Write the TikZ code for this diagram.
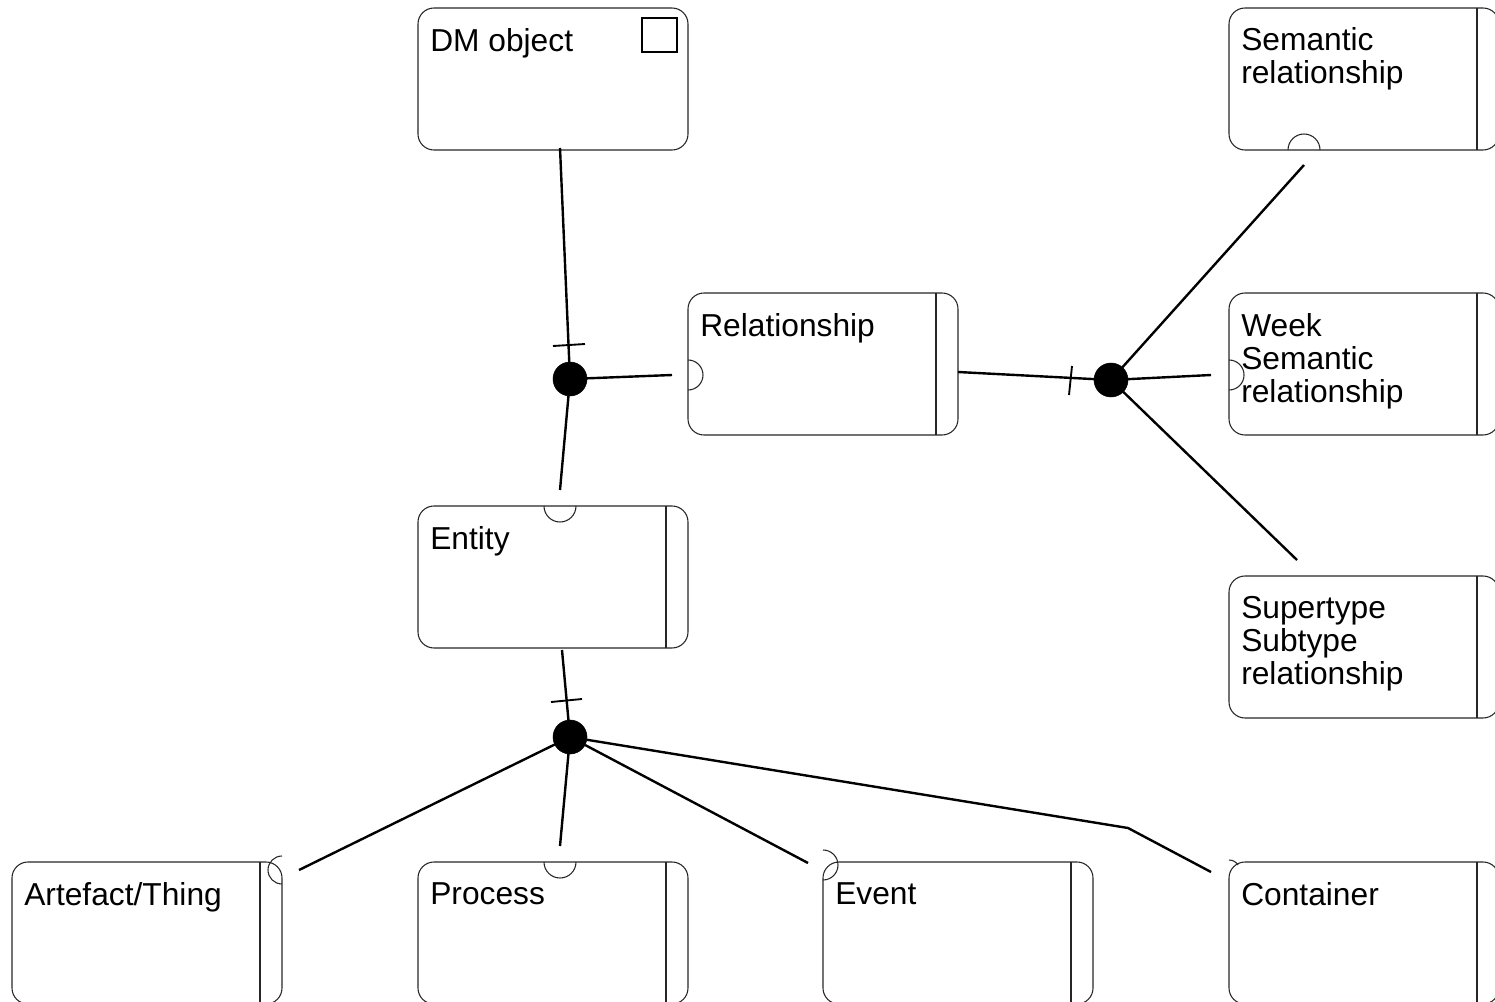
\documentclass[tikz,border=0pt]{standalone}
\usepackage{fontspec}
\setmainfont{Liberation Sans}
\begin{document}
\begin{tikzpicture}[x=0.75pt,y=-0.75pt,
  box/.style={draw=black!85, line width=0.8pt, rounded corners=12pt, minimum width=202.5pt, minimum height=106.5pt, inner sep=0pt, outer sep=0pt},
  lbl/.style={anchor=north west, inner sep=0pt, align=left, font=\fontsize{23.8}{24.75}\selectfont},
  conn/.style={line width=1.8pt, black},
  tick/.style={line width=1.4pt, black},
  junc/.style={circle, fill=black, draw=black, minimum size=25.5pt, inner sep=0pt, outer sep=0pt},
  notch/.style={draw=black!85, line width=0.8pt},
  divider/.style={draw=black!85, line width=0.8pt}]
\useasboundingbox (0,0) rectangle (1495,1002);

% boxes
\node[box] (dm)   at (553,79)  {};
\node[box] (sem)  at (1364,79) {};
\node[box] (rel)  at (823,364) {};
\node[box] (week) at (1364,364) {};
\node[box] (ent)  at (553,577) {};
\node[box] (sup)  at (1364,647) {};
\node[box] (art)  at (147,933) {};
\node[box] (proc) at (553,933) {};
\node[box] (evt)  at (958,933) {};
\node[box] (cont) at (1364,933) {};

% dividers
\foreach \b in {sem,rel,week,ent,sup,art,proc,evt,cont}
  \draw[divider] ([shift={(-22,0)}]\b.north east) -- ([shift={(-22,0)}]\b.south east);

% labels
\node[lbl] (dmt)   at ([shift={(12,20)}]dm.north west)   {DM object};
\node[lbl] (semt)  at ([shift={(12,19)}]sem.north west)  {Semantic\\relationship};
\node[lbl] (relt)  at ([shift={(12,20)}]rel.north west)  {Relationship};
\node[lbl] (weekt) at ([shift={(12,20)}]week.north west) {Week\\Semantic\\relationship};
\node[lbl] (entt)  at ([shift={(12,20)}]ent.north west)  {Entity};
\node[lbl] (supt)  at ([shift={(12,20)}]sup.north west)  {Supertype\\Subtype\\relationship};
\node[lbl] (artt)  at ([shift={(12,20)}]art.north west)  {Artefact/Thing};
\node[lbl] (proct) at ([shift={(12,20)}]proc.north west) {Process};
\node[lbl] (evtt)  at ([shift={(12,20)}]evt.north west)  {Event};
\node[lbl] (contt) at ([shift={(12,20)}]cont.north west) {Container};

% DM object icon
\draw[line width=1.3pt] (642,18) rectangle (677,52);

% notches (half circles)
\draw[notch] (1320,150) arc[start angle=0, end angle=-180, radius=16];
\draw[notch] (688,360) arc[start angle=-90, end angle=90, radius=15];
\draw[notch] (1229,360) arc[start angle=-90, end angle=90, radius=15];
\draw[notch] (576,506) arc[start angle=0, end angle=180, radius=16];
\draw[notch] (576,862) arc[start angle=0, end angle=180, radius=16];
\draw[notch] (282,856) arc[start angle=-90, end angle=-270, radius=14];
\draw[notch] (823,850) arc[start angle=-90, end angle=90, radius=15];
\draw[notch] (1229,860) .. controls (1233,860) and (1236,862) .. (1238,865);

% junctions
\node[junc] (j1) at (570,379) {};
\node[junc] (j2) at (1111,380) {};
\node[junc] (j3) at (570,737) {};

% connector free ends
\coordinate (dmE)   at (560,148);
\coordinate (relW)  at (672,375);
\coordinate (entN)  at (560,490);
\coordinate (relE)  at (958,372);
\coordinate (semS)  at (1304,165);
\coordinate (weekW) at (1211,375);
\coordinate (supN)  at (1297,560);
\coordinate (entS)  at (562,650);
\coordinate (artE)  at (299,870);
\coordinate (procN) at (560,846);
\coordinate (evtW)  at (808,863);
\coordinate (bend)  at (1128,828);
\coordinate (contW) at (1211,872);

% connectors
\draw[conn] (dmE) -- (j1);
\draw[conn] (j1) -- (relW);
\draw[conn] (j1) -- (entN);
\draw[conn] (relE) -- (j2);
\draw[conn] (j2) -- (semS);
\draw[conn] (j2) -- (weekW);
\draw[conn] (j2) -- (supN);
\draw[conn] (entS) -- (j3);
\draw[conn] (j3) -- (artE);
\draw[conn] (j3) -- (procN);
\draw[conn] (j3) -- (evtW);
\draw[conn] (j3) -- (bend) -- (contW);

% ticks
\draw[tick] (553,346) -- (585,344);
\draw[tick] (1072,366) -- (1069,395);
\draw[tick] (551,702) -- (582,699);
\end{tikzpicture}
\end{document}
